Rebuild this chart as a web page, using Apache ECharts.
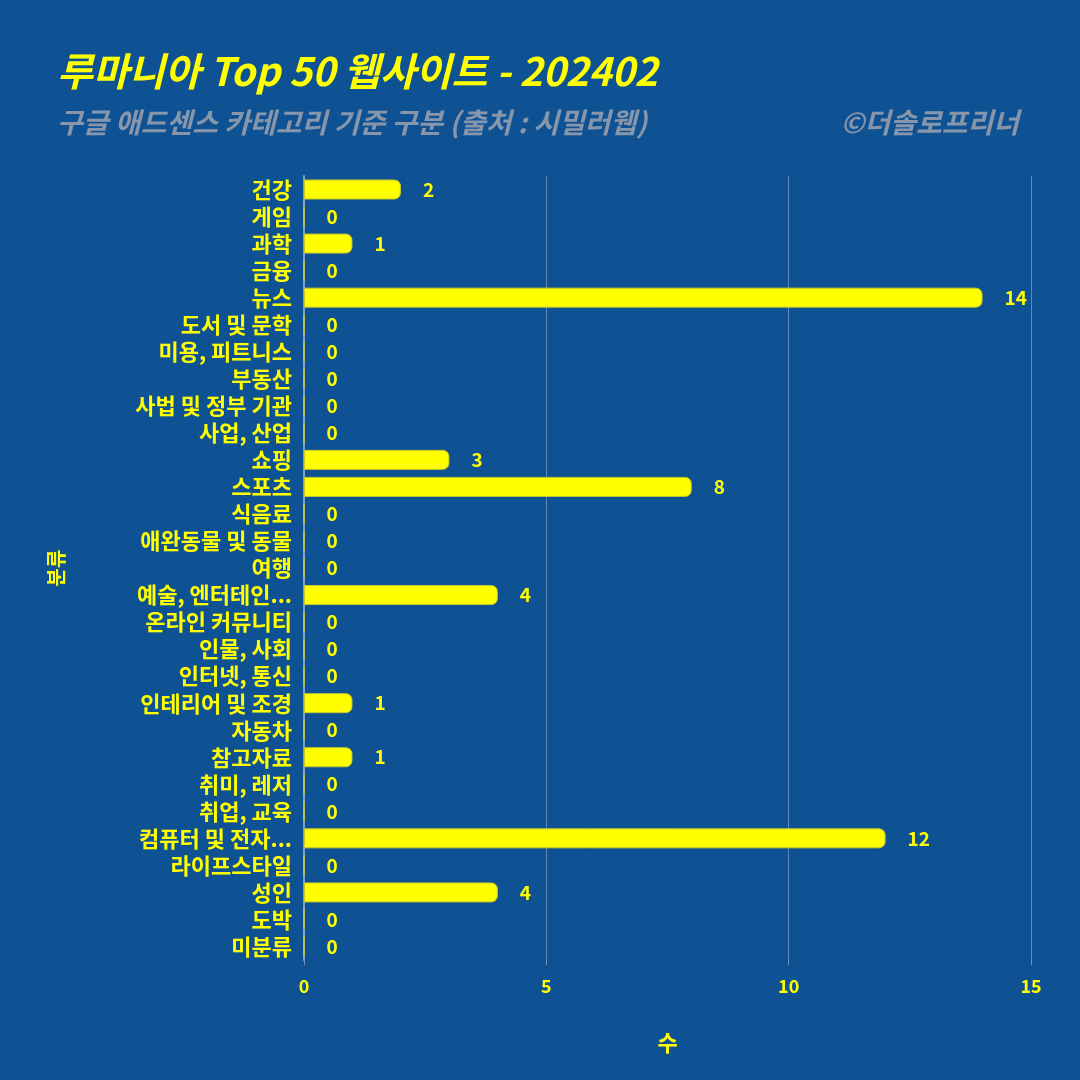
<!DOCTYPE html>
<html><head><meta charset="utf-8">
<script src="https://cdn.jsdelivr.net/npm/echarts@6/dist/echarts.min.js"></script>
<style>html,body{margin:0;padding:0;background:#0e5293;}#c{width:1080px;height:1080px;}</style>
</head><body><div id="c"></div>
<script>
const categories = ['건강','게임','과학','금융','뉴스','도서 및 문학','미용, 피트니스','부동산','사법 및 정부 기관','사업, 산업','쇼핑','스포츠','식음료','애완동물 및 동물','여행','예술, 엔터테인...','온라인 커뮤니티','인물, 사회','인터넷, 통신','인테리어 및 조경','자동차','참고자료','취미, 레저','취업, 교육','컴퓨터 및 전자...','라이프스타일','성인','도박','미분류'];
const counts = [2,0,1,0,14,0,0,0,0,0,3,8,0,0,0,4,0,0,0,1,0,1,0,0,12,0,4,0,0];
const xTicks = [0,5,10,15];
const titleText = '루마니아 Top 50 웹사이트 - 202402';
const subtitleText = '구글 애드센스 카테고리 기준 구분 (출처 : 시밀러웹)';
const creditText = '©더솔로프리너';

const font = '"Noto Sans CJK KR", "Noto Sans", sans-serif';
const chart = echarts.init(document.getElementById('c'));
chart.setOption({
  backgroundColor: '#0e5293',
  textStyle: { fontFamily: font },
  title: [
    { text: titleText, left: 52, top: 47, textStyle: { color: '#ffff00', fontSize: 39, fontWeight: 'bold', fontStyle: 'italic', fontFamily: font } },
    { text: subtitleText, left: 52, top: 103, textStyle: { color: '#8796ab', fontSize: 28, fontWeight: 'bold', fontStyle: 'italic', fontFamily: font } },
    { text: creditText, right: 56, top: 103, textStyle: { color: '#8796ab', fontSize: 28, fontWeight: 'bold', fontStyle: 'italic', fontFamily: font } }
  ],
  grid: { left: 304, right: 49, top: 176, bottom: 120, containLabel: false },
  xAxis: {
    type: 'value', min: 0, max: 15, interval: 5,
    name: '수', nameLocation: 'middle', nameGap: 72,
    nameTextStyle: { color: '#ffff00', fontSize: 22, fontWeight: 'bold' },
    axisLine: { show: false },
    axisTick: { show: true, length: 5, lineStyle: { color: '#6f93bd' } },
    axisLabel: { color: '#ffff00', fontSize: 18, fontWeight: 'bold', margin: 17,
      formatter: v => xTicks.includes(v) ? String(v) : '' },
    splitLine: { show: true, lineStyle: { color: '#5f89b9', width: 1 } }
  },
  yAxis: {
    type: 'category', data: categories, inverse: true,
    name: '분류', nameLocation: 'middle', nameGap: 238, nameRotate: 90,
    nameTextStyle: { color: '#ffff00', fontSize: 20, fontWeight: 'bold' },
    axisLine: { show: true, lineStyle: { color: '#7fa0c8', width: 2 } },
    axisTick: { show: false },
    axisLabel: { color: '#ffff00', fontSize: 22, fontWeight: 'bold', margin: 12, interval: 0, lineHeight: 24 },
    splitLine: { show: false }
  },
  series: [{
    type: 'bar', data: counts, barWidth: '74%',
    itemStyle: { color: '#ffff00', borderRadius: [0, 6, 6, 0], borderColor: '#c9c92a', borderWidth: 1 },
    label: { show: true, position: 'right', distance: 22, color: '#ffff00', fontSize: 19, fontWeight: 'bold' },
    animation: false
  }],
  animation: false
});
</script></body></html>
